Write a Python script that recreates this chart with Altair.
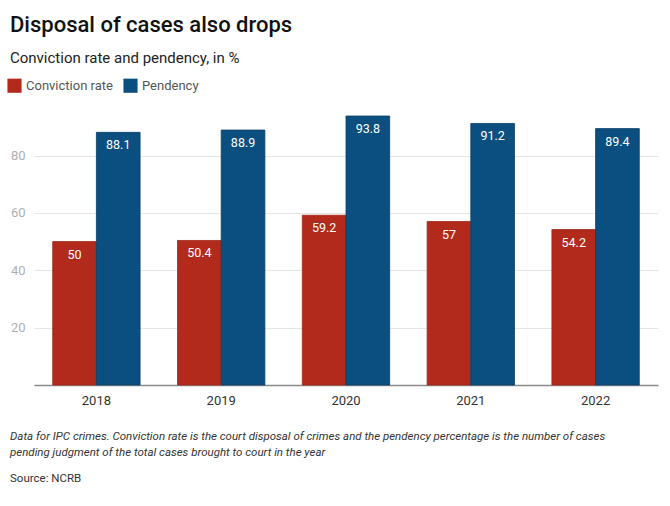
import altair as alt
import pandas as pd

years = ["2018", "2019", "2020", "2021", "2022"]
conviction = [50, 50.4, 59.2, 57, 54.2]
pendency = [88.1, 88.9, 93.8, 91.2, 89.4]
series = ["Conviction rate", "Pendency"]
colors = ["#b12a1c", "#0b4f80"]

title = "Disposal of cases also drops"
subtitle = "Conviction rate and pendency, in %"
note1 = "Data for IPC crimes. Conviction rate is the court disposal of crimes and the pendency percentage is the number of cases"
note2 = "pending judgment of the total cases brought to court in the year"
source = "Source: NCRB"

rows = []
for y, c, p in zip(years, conviction, pendency):
    rows.append({"year": y, "series": series[0], "value": c})
    rows.append({"year": y, "series": series[1], "value": p})
df = pd.DataFrame(rows)

FONT = "Roboto"
W, H = 624, 269

x = alt.X("year:N", title=None,
          scale=alt.Scale(paddingInner=0.3, paddingOuter=0.15),
          axis=alt.Axis(labelAngle=0, labelFontSize=13, labelColor="#333333",
                        labelFont=FONT, ticks=False, domainColor="#8a8a8a",
                        domainWidth=1.5, labelPadding=9, grid=False))
y = alt.Y("value:Q", title=None,
          scale=alt.Scale(domain=[0, 93.8], nice=False),
          axis=alt.Axis(values=[20, 40, 60, 80], labelFontSize=13, labelColor="#b0b0b0",
                        labelFont=FONT, ticks=False, domain=False, gridColor="#e6e6e6",
                        labelPadding=9))
color = alt.Color("series:N", scale=alt.Scale(domain=series, range=colors),
                  legend=alt.Legend(title=None, orient="none", legendX=-27, legendY=-38,
                                    direction="horizontal", symbolType="square",
                                    symbolSize=200, symbolStrokeWidth=0, symbolOpacity=1,
                                    labelFontSize=13, labelFont=FONT, labelColor="#555555",
                                    columnPadding=10, labelOffset=4))

base = alt.Chart(df)
bars = base.mark_bar(strokeWidth=0.8).encode(
    x=x, y=y, color=color, xOffset=alt.XOffset("series:N", sort=series),
    stroke=alt.Stroke("series:N", scale=alt.Scale(domain=series, range=["#9e2418", "#083d66"]), legend=None)
)
labels = base.mark_text(color="white", fontSize=12.5, font=FONT, fontWeight="normal",
                        baseline="top", dy=7).encode(
    x=alt.X("year:N"), y=alt.Y("value:Q"), xOffset=alt.XOffset("series:N", sort=series),
    text=alt.Text("value:Q", format=".1~f")
)

def txt(s, xx, yy, size, color="#222222", weight="normal", style="normal"):
    return alt.Chart(pd.DataFrame({"t": [s]})).mark_text(
        align="left", baseline="alphabetic", fontSize=size, font=FONT,
        fontWeight=weight, fontStyle=style, color=color
    ).encode(text="t:N", x=alt.value(xx), y=alt.value(yy))

texts = [
    txt(title, -24, -84, 22, "#111111", 500),
    txt(subtitle, -24, -53, 15, "#222222"),
    txt(note1, -24, 324, 11.5, "#333333", "normal", "italic"),
    txt(note2, -24, 340, 11.5, "#333333", "normal", "italic"),
    txt(source, -24, 366, 11.5, "#333333"),
]

chart = alt.layer(bars, labels, *texts).properties(
    width=W, height=H,
    autosize=alt.AutoSizeParams(type="none"),
    padding={"left": 34, "top": 116, "right": 12, "bottom": 121},
    view=alt.ViewBackground(strokeWidth=0, stroke="transparent"),
).configure_view(strokeWidth=0, stroke="transparent").configure(background="white")

chart.save("out.html", embed_options={"renderer": "svg", "actions": False})
